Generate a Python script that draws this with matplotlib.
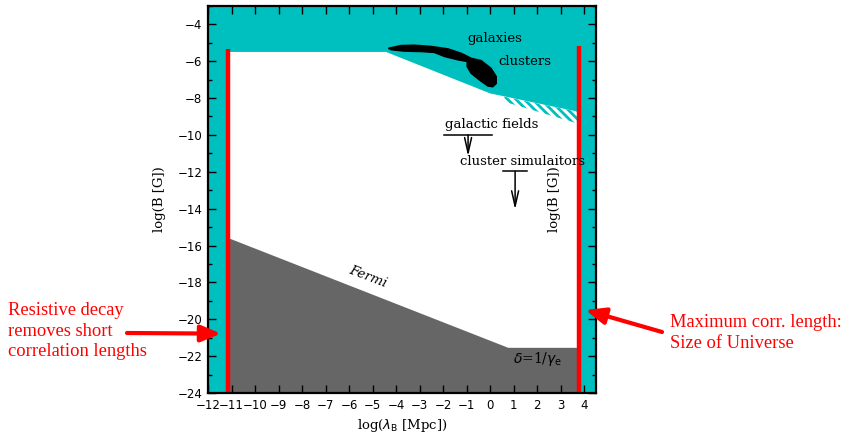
import matplotlib
matplotlib.use('Agg')
import matplotlib.pyplot as plt
from matplotlib.patches import Polygon

# region outlines in (log lambda_B [Mpc], log B [G])
allowed_x = [-11.13, -11.13, -4.43, 0.0, 3.77, 3.77]
allowed_y = [-24.0, -5.5, -5.5, -7.75, -8.75, -24.0]
fermi_x = [-11.13, -11.13, 0.77, 3.77, 3.77]
fermi_y = [-24.0, -15.6, -21.55, -21.55, -24.0]
hatch_x = [0.6, 3.77, 3.77, 0.6]
hatch_y = [-7.93, -8.75, -9.4, -8.2]
# observed galaxy / cluster fields (blob outline)
blob_x = [-4.33, -3.79, -3.22, -2.51, -1.80, -1.23, -0.81, -0.38, 0.04, 0.26, 0.26,
          0.11, -0.10, -0.46, -0.81, -0.98, -0.98, -1.37, -1.94, -2.37, -2.94, -3.65, -4.21]
blob_y = [-5.30, -5.15, -5.13, -5.20, -5.33, -5.57, -5.84, -5.97, -6.39, -6.84, -7.21,
          -7.39, -7.35, -7.02, -6.66, -6.30, -6.02, -5.93, -5.75, -5.53, -5.48, -5.46, -5.38]
# upper limits: (x underline start, x underline end, x arrow, y, y arrow end)
gal_limit = [-1.96, 0.09, -0.94, -10.0, -11.16]
clu_limit = [0.55, 1.57, 1.06, -11.98, -14.05]
# red boundaries: min / max correlation lengths
lam_min, lam_min_top = -11.13, -5.35
lam_max, lam_max_top = 3.77, -5.2

xticks = list(range(-12, 5))
yticks = list(range(-24, -3, 2))

cyan = '#00bfbf'
gray = '#666666'
red = '#ff0000'
serif = 'DejaVu Serif'

plt.rcParams['hatch.linewidth'] = 2.0

fig = plt.figure(figsize=(8.49, 4.34), dpi=100)
ax = fig.add_axes([0.245, 0.0945, 0.457, 0.892])
ax.set_facecolor(cyan)
ax.set_xlim(-12, 4.5)
ax.set_ylim(-24, -3)

ax.add_patch(Polygon(list(zip(allowed_x, allowed_y)), closed=True, facecolor='white', edgecolor='none', zorder=1))
ax.add_patch(Polygon(list(zip(hatch_x, hatch_y)), closed=True, facecolor='none', edgecolor=cyan,
                     hatch='\\' * 4, linewidth=0, zorder=1.5))
ax.add_patch(Polygon(list(zip(fermi_x, fermi_y)), closed=True, facecolor=gray, edgecolor='none', zorder=2))
ax.add_patch(Polygon(list(zip(blob_x, blob_y)), closed=True, facecolor='black', edgecolor='black', zorder=3))

ax.plot([lam_min, lam_min], [-24, lam_min_top], color=red, lw=3.2, zorder=4, solid_capstyle='butt')
ax.plot([lam_max, lam_max], [-24, lam_max_top], color=red, lw=3.2, zorder=4, solid_capstyle='butt')

# upper limits
for lim in [gal_limit, clu_limit]:
    ax.plot([lim[0], lim[1]], [lim[3], lim[3]], color='black', lw=1.1, zorder=4)
    ax.annotate('', xy=(lim[2], lim[4]), xytext=(lim[2], lim[3]),
                arrowprops=dict(arrowstyle='->,head_length=1.1,head_width=0.25', color='black', lw=1.1,
                                shrinkA=0, shrinkB=0),
                zorder=4)

ax.text(0.19, -4.77, 'galaxies', family=serif, fontsize=9.5, ha='center', va='center', zorder=5)
ax.text(1.47, -6.02, 'clusters', family=serif, fontsize=9.5, ha='center', va='center', zorder=5)
ax.text(0.06, -9.41, 'galactic fields', family=serif, fontsize=9.5, ha='center', va='center', zorder=5)
ax.text(1.36, -11.43, 'cluster simulaitors', family=serif, fontsize=9.5, ha='center', va='center', zorder=5)
ax.text(-5.19, -17.72, 'Fermi', family=serif, style='italic', fontsize=9.5, ha='center', va='center',
        rotation=-21, zorder=5)
ax.text(2.04, -22.14, r'$\delta$=1/$\gamma_{\mathrm{e}}$', family=serif, fontsize=10, ha='center', va='center',
        zorder=5)
ax.text(2.72, -13.5, 'log(B [G])', family=serif, fontsize=9.5, ha='center', va='center', rotation=90, zorder=5)

ax.set_xticks(xticks)
ax.set_yticks(yticks)
ax.set_yticks(range(-24, -2), minor=True)
ax.tick_params(which='both', direction='in', top=True, right=True, width=1, labelsize=8.5, pad=4)
ax.tick_params(which='major', length=6)
ax.tick_params(which='minor', length=3)
for s in ax.spines.values():
    s.set_linewidth(1.6)
    s.set_zorder(6)
ax.set_axisbelow(False)

ax.set_ylabel('log(B [G])', family=serif, fontsize=9.5)
ax.yaxis.set_label_coords(-0.108, 0.5)
ax.set_xlabel(r'log($\lambda_{\mathrm{B}}$ [Mpc])', family=serif, fontsize=9.5)
ax.xaxis.set_label_coords(0.5, -0.062)

# red annotations
tfont = dict(family='Liberation Serif', fontsize=13.3, color=red)
fig.text(8 / 849, 1 - 331 / 434, 'Resistive decay\nremoves short\ncorrelation lengths', ha='left', va='center',
         linespacing=1.28, **tfont)
fig.text(670 / 849, 1 - 333 / 434, 'Maximum corr. length:\nSize of Universe', ha='left', va='center',
         linespacing=1.28, **tfont)
ax.annotate('', xy=(-11.45, -20.78), xycoords='data', xytext=(127, 434 - 333), textcoords='figure pixels',
            arrowprops=dict(arrowstyle='-|>,head_length=1.2,head_width=0.5', color=red, lw=3,
                            shrinkA=0, shrinkB=0),
            annotation_clip=False, zorder=7)
ax.annotate('', xy=(4.05, -19.5), xycoords='data', xytext=(662, 434 - 332), textcoords='figure pixels',
            arrowprops=dict(arrowstyle='-|>,head_length=1.2,head_width=0.5', color=red, lw=3,
                            shrinkA=0, shrinkB=0),
            annotation_clip=False, zorder=7)

fig.savefig('out.png', dpi=100)
